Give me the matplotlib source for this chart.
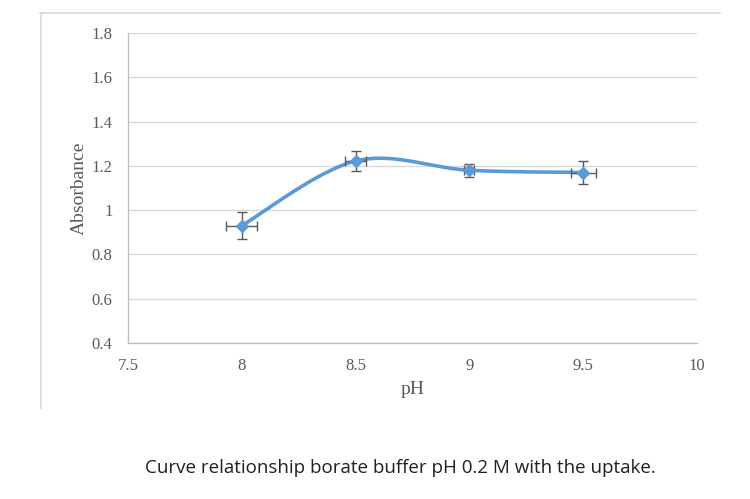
import numpy as np
import matplotlib
matplotlib.use("Agg")
import matplotlib.pyplot as plt
from matplotlib.lines import Line2D

ph = [8.0, 8.5, 9.0, 9.5]
absorb = [0.93, 1.222, 1.18, 1.17]
y_err = [0.06, 0.045, 0.03, 0.054]
x_err = [0.068, 0.045, 0.022, 0.055]
x_ticks = [7.5, 8, 8.5, 9, 9.5, 10]
x_labels = ["7.5", "8", "8.5", "9", "9.5", "10"]
y_ticks = [0.4, 0.6, 0.8, 1.0, 1.2, 1.4, 1.6, 1.8]
y_labels = ["0.4", "0.6", "0.8", "1", "1.2", "1.4", "1.6", "1.8"]
caption = "Curve relationship borate buffer pH 0.2 M with the uptake."


def smooth_curve(xs, ys, n=60):
    P = np.column_stack([xs, ys]).astype(float)
    m = len(P)
    out = []
    for i in range(m - 1):
        p0 = P[i - 1] if i > 0 else P[i]
        p1 = P[i]
        p2 = P[i + 1]
        p3 = P[i + 2] if i + 2 < m else P[i + 1]
        c1 = p1 + (p2 - p0) / 6.0
        c2 = p2 - (p3 - p1) / 6.0
        t = np.linspace(0, 1, n)[:, None]
        seg = ((1 - t) ** 3) * p1 + 3 * ((1 - t) ** 2) * t * c1 + 3 * (1 - t) * t ** 2 * c2 + t ** 3 * p2
        out.append(seg if i == 0 else seg[1:])
    out = np.vstack(out)
    return out[:, 0], out[:, 1]


fig = plt.figure(figsize=(7.5, 4.99), dpi=100)
fig.patch.set_facecolor("white")

# outer frame fragments
fig.add_artist(Line2D([40 / 750, 720 / 750], [1 - 12.5 / 499, 1 - 12.5 / 499],
                      transform=fig.transFigure, color="#d9d9d9", lw=1.2))
fig.add_artist(Line2D([40.5 / 750, 40.5 / 750], [1 - 12.5 / 499, 1 - 408 / 499],
                      transform=fig.transFigure, color="#d9d9d9", lw=1.2))

ax = fig.add_axes([128 / 750, 1 - 343 / 499, (697 - 128) / 750, (343 - 33) / 499])
ax.set_xlim(7.5, 10)
ax.set_ylim(0.4, 1.8)

ax.set_yticks(y_ticks)
ax.set_yticklabels(y_labels)
ax.set_xticks(x_ticks)
ax.set_xticklabels(x_labels)
ax.grid(axis="y", color="#d9d9d9", lw=1)
ax.set_axisbelow(True)
for s in ["top", "right"]:
    ax.spines[s].set_visible(False)
for s in ["left", "bottom"]:
    ax.spines[s].set_color("#bfbfbf")
    ax.spines[s].set_linewidth(1)
ax.tick_params(length=0, colors="#595959", labelsize=12)
ax.tick_params(axis="y", pad=11)
ax.tick_params(axis="x", pad=11)
for lab in ax.get_xticklabels() + ax.get_yticklabels():
    lab.set_fontfamily("Liberation Serif")

sx, sy = smooth_curve(ph, absorb)
ax.plot(sx, sy, color="#5b9bd5", lw=2.6, solid_capstyle="round", zorder=3)
ax.errorbar(ph, absorb, yerr=y_err, xerr=x_err, fmt="none", ecolor="#595959",
            elinewidth=1, capsize=3.5, capthick=1, zorder=4)
ax.plot(ph, absorb, linestyle="none", marker="D", markersize=6.5, color="#5b9bd5", zorder=5)

ax.set_xlabel("pH", fontfamily="Liberation Serif", fontsize=14, color="#595959", labelpad=5)
ax.set_ylabel("Absorbance", fontfamily="Liberation Serif", fontsize=14, color="#595959", labelpad=3)

fig.text(400 / 750, 1 - 468 / 499, caption, ha="center", va="center",
         fontfamily="Open Sans", fontsize=13.5, color="#231f20")

fig.savefig("out.png", dpi=100, facecolor="white")
